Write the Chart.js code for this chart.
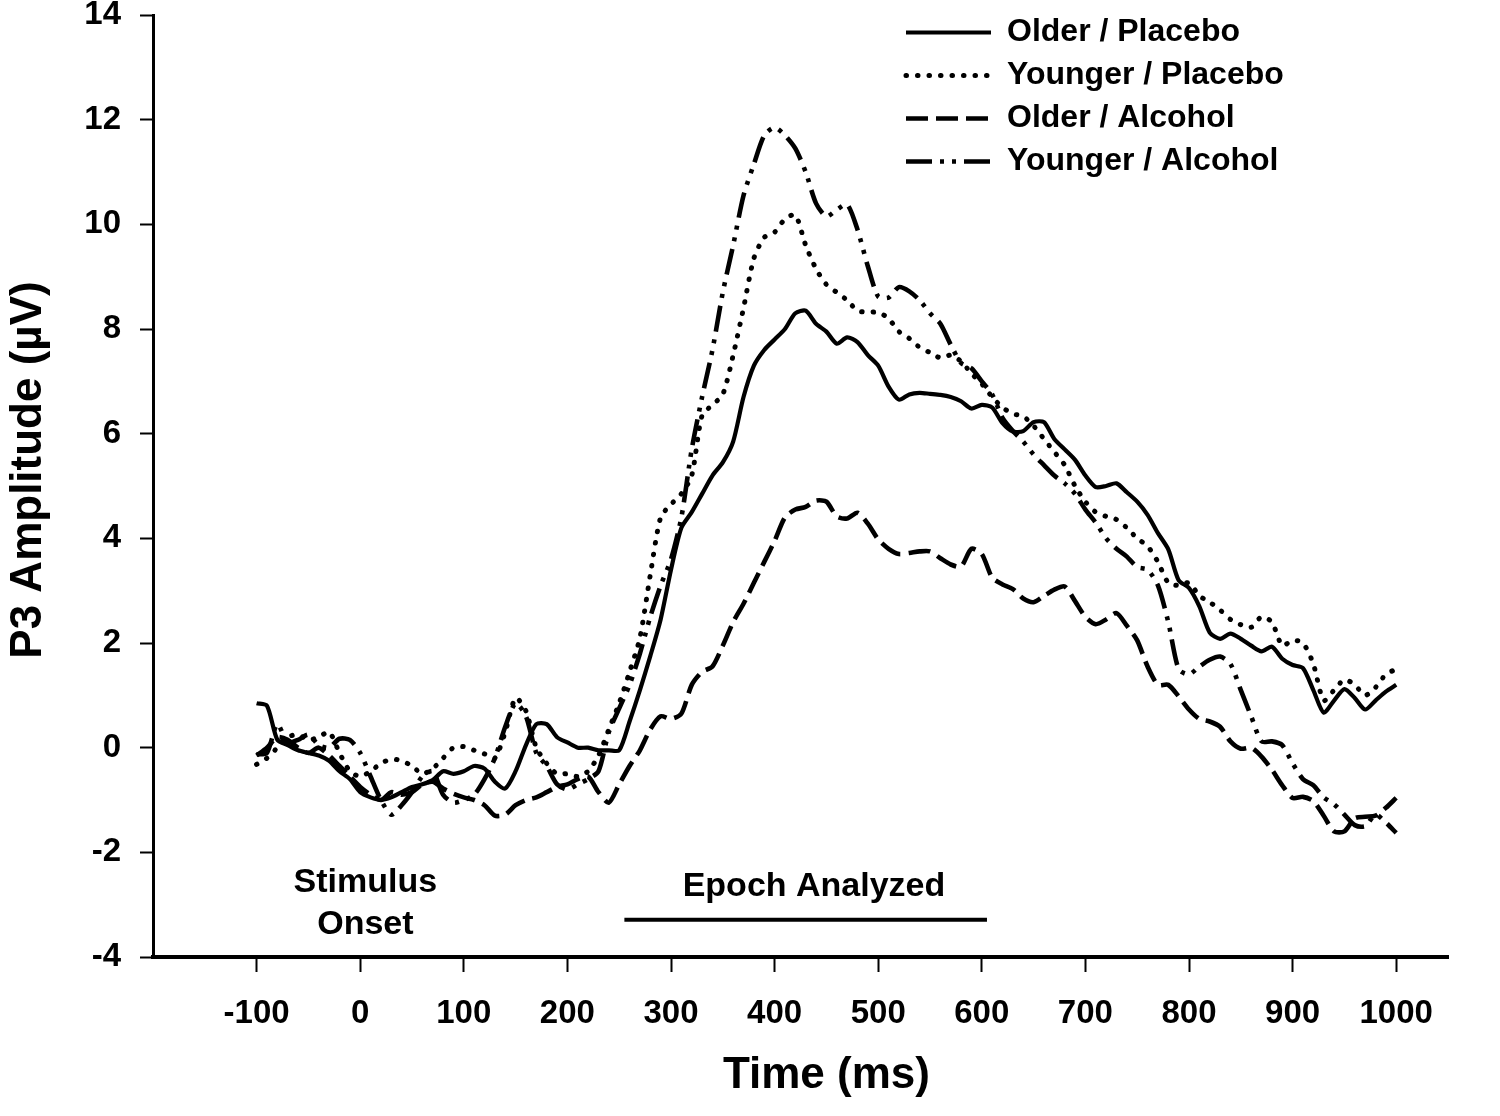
<!DOCTYPE html>
<html>
<head>
<meta charset="utf-8">
<title>P3 Amplitude by Age and Beverage</title>
<script src="https://cdn.jsdelivr.net/npm/chart.js@4.4.1/dist/chart.umd.min.js"></script>
<style>
    html, body { margin: 0; padding: 0; background: #fff; }
    #chart-box { width: 1500px; height: 1116px; }
</style>
</head>
<body>
<div id="chart-box"><canvas id="p3-chart" width="1500" height="1116"></canvas></div>
<script>
// time in ms, one sample every 10 ms
const times = [
    -100, -90, -80, -70, -60, -50, -40, -30, -20, -10,
    0, 10, 20, 30, 40, 50, 60, 70, 80, 90,
    100, 110, 120, 130, 140, 150, 160, 170, 180, 190,
    200, 210, 220, 230, 240, 250, 260, 270, 280, 290,
    300, 310, 320, 330, 340, 350, 360, 370, 380, 390,
    400, 410, 420, 430, 440, 450, 460, 470, 480, 490,
    500, 510, 520, 530, 540, 550, 560, 570, 580, 590,
    600, 610, 620, 630, 640, 650, 660, 670, 680, 690,
    700, 710, 720, 730, 740, 750, 760, 770, 780, 790,
    800, 810, 820, 830, 840, 850, 860, 870, 880, 890,
    900, 910, 920, 930, 940, 950, 960, 970, 980, 990,
    1000
];

const olderPlacebo = [
    0.85, 0.80, 0.15, 0.05, -0.05, -0.10, -0.15, -0.25, -0.45, -0.60,
    -0.85, -0.95, -1.00, -0.95, -0.85, -0.75, -0.70, -0.62, -0.45, -0.50,
    -0.45, -0.35, -0.40, -0.65, -0.78, -0.45, 0.05, 0.45, 0.45, 0.20,
    0.10, 0.00, 0.00, -0.05, -0.05, -0.05, 0.50, 1.10, 1.75, 2.45,
    3.40, 4.20, 4.50, 4.85, 5.20, 5.45, 5.85, 6.70, 7.30, 7.60,
    7.80, 8.00, 8.30, 8.35, 8.10, 7.95, 7.72, 7.84, 7.75, 7.50,
    7.30, 6.90, 6.65, 6.75, 6.78, 6.76, 6.74, 6.70, 6.62, 6.48,
    6.55, 6.50, 6.20, 6.04, 6.05, 6.22, 6.22, 5.90, 5.70, 5.50,
    5.20, 4.98, 5.00, 5.05, 4.88, 4.70, 4.45, 4.10, 3.79, 3.20,
    3.05, 2.70, 2.20, 2.08, 2.18, 2.08, 1.95, 1.84, 1.93, 1.70,
    1.58, 1.52, 1.10, 0.67, 0.90, 1.12, 0.95, 0.73, 0.90, 1.07,
    1.20
];

const youngerPlacebo = [
    -0.32, -0.20, 0.00, 0.20, 0.25, 0.15, 0.20, 0.30, -0.10, -0.45,
    -0.55, -0.45, -0.30, -0.22, -0.25, -0.35, -0.50, -0.40, -0.20, 0.00,
    0.02, -0.05, -0.12, -0.20, 0.30, 0.95, 0.70, 0.00, -0.30, -0.50,
    -0.50, -0.55, -0.45, -0.15, 0.35, 0.85, 1.45, 2.10, 3.30, 4.40,
    4.65, 4.85, 5.20, 6.35, 6.55, 6.75, 7.50, 8.40, 9.35, 9.75,
    9.85, 10.10, 10.18, 9.60, 9.15, 8.85, 8.70, 8.55, 8.35, 8.32,
    8.32, 8.20, 7.95, 7.82, 7.65, 7.55, 7.45, 7.50, 7.38, 7.15,
    6.95, 6.70, 6.50, 6.38, 6.33, 6.15, 5.90, 5.65, 5.40, 5.00,
    4.70, 4.50, 4.42, 4.36, 4.20, 4.00, 3.85, 3.55, 3.15, 3.10,
    3.15, 2.90, 2.78, 2.63, 2.45, 2.35, 2.30, 2.50, 2.40, 1.95,
    2.05, 2.00, 1.60, 0.90, 1.10, 1.30, 1.20, 1.00, 1.15, 1.40,
    1.50
];

const olderAlcohol = [
    -0.15, 0.00, 0.20, 0.15, 0.00, -0.10, 0.00, -0.15, -0.35, -0.55,
    -0.75, -0.90, -1.00, -0.85, -0.90, -0.85, -0.70, -0.65, -0.78, -0.88,
    -0.95, -1.00, -1.10, -1.30, -1.28, -1.10, -1.00, -0.95, -0.85, -0.75,
    -0.70, -0.60, -0.55, -0.85, -1.05, -0.70, -0.35, -0.05, 0.35, 0.60,
    0.55, 0.65, 1.20, 1.45, 1.55, 1.95, 2.40, 2.75, 3.15, 3.55,
    3.95, 4.40, 4.55, 4.60, 4.72, 4.70, 4.42, 4.38, 4.49, 4.28,
    3.98, 3.80, 3.70, 3.72, 3.75, 3.75, 3.62, 3.50, 3.46, 3.80,
    3.70, 3.25, 3.12, 3.03, 2.85, 2.78, 2.90, 3.02, 3.08, 2.80,
    2.50, 2.36, 2.45, 2.57, 2.33, 2.05, 1.55, 1.20, 1.20, 0.98,
    0.73, 0.55, 0.50, 0.40, 0.12, -0.02, 0.00, -0.17, -0.42, -0.72,
    -0.96, -0.94, -1.02, -1.30, -1.60, -1.60, -1.35, -1.32, -1.30, -1.15,
    -0.96
];

const youngerAlcohol = [
    -0.13, -0.10, 0.45, 0.10, 0.15, 0.25, 0.05, 0.00, 0.17, 0.15,
    -0.10, -0.55, -1.00, -1.28, -1.10, -0.85, -0.55, -0.45, -0.90, -1.05,
    -1.00, -0.90, -0.60, -0.20, 0.40, 0.85, 0.60, -0.10, -0.35, -0.70,
    -0.80, -0.70, -0.60, -0.45, 0.30, 0.75, 1.20, 1.80, 2.50, 3.10,
    3.60, 4.40, 5.70, 6.70, 7.60, 8.70, 9.60, 10.55, 11.15, 11.70,
    11.85, 11.70, 11.45, 11.00, 10.40, 10.15, 10.28, 10.38, 9.90, 9.20,
    8.62, 8.60, 8.80, 8.72, 8.55, 8.30, 8.10, 7.70, 7.35, 7.25,
    7.00, 6.75, 6.30, 6.05, 5.85, 5.60, 5.40, 5.20, 5.05, 4.85,
    4.55, 4.30, 4.00, 3.80, 3.65, 3.45, 3.40, 3.10, 2.40, 1.50,
    1.40, 1.55, 1.68, 1.74, 1.60, 1.10, 0.60, 0.12, 0.12, 0.05,
    -0.30, -0.60, -0.72, -0.95, -1.08, -1.28, -1.48, -1.50, -1.28, -1.43,
    -1.63
];

const groupNames = ['Older / Placebo', 'Younger / Placebo', 'Older / Alcohol', 'Younger / Alcohol'];
const xTicks = [-100, 0, 100, 200, 300, 400, 500, 600, 700, 800, 900, 1000];
const yTicks = [-4, -2, 0, 2, 4, 6, 8, 10, 12, 14];
const epochRange = [255, 605];

const FONT = '"Liberation Sans", Arial, Helvetica, sans-serif';

document.addEventListener('DOMContentLoaded', function() {
    Chart.defaults.font.family = FONT;
    Chart.defaults.color = '#000';
    initializeP3Chart();
});

function toPoints(values) {
    return values.map((v, i) => ({ x: times[i], y: v }));
}

function makeDataset(label, values, dash, width, cap) {
    return {
        label: label,
        data: toPoints(values),
        borderColor: '#000',
        backgroundColor: '#000',
        borderWidth: width,
        borderDash: dash,
        borderCapStyle: cap,
        pointRadius: 0,
        tension: 0.25,
        fill: false
    };
}

// moves the legend into the top right corner of the plot
const legendPlacer = {
    id: 'legendPlacer',
    afterLayout(chart) {
        const lg = chart.legend;
        lg.left = 895;
        lg.right = lg.left + lg.width;
        lg.top = 5.5;
        lg.bottom = lg.top + lg.height;
    }
};

// axis titles, stimulus label and the analysed epoch bar
const annotations = {
    id: 'annotations',
    afterDraw(chart) {
        const ctx = chart.ctx;
        const xs = chart.scales.x;
        const ys = chart.scales.y;
        ctx.save();
        ctx.fillStyle = '#000';
        ctx.strokeStyle = '#000';
        ctx.textAlign = 'center';
        ctx.textBaseline = 'middle';

        ctx.font = 'bold 34px ' + FONT;
        ctx.fillText('Stimulus', xs.getPixelForValue(5), ys.getPixelForValue(-2.58));
        ctx.fillText('Onset', xs.getPixelForValue(5), ys.getPixelForValue(-3.38));
        ctx.fillText('Epoch Analyzed', xs.getPixelForValue(438), ys.getPixelForValue(-2.66));

        const barY = ys.getPixelForValue(-3.29);
        ctx.lineWidth = 4;
        ctx.beginPath();
        ctx.moveTo(xs.getPixelForValue(epochRange[0]), barY);
        ctx.lineTo(xs.getPixelForValue(epochRange[1]), barY);
        ctx.stroke();

        ctx.font = 'bold 44px ' + FONT;
        ctx.fillText('Time (ms)', xs.getPixelForValue(450), 1076);

        ctx.translate(29, 470);
        ctx.rotate(-Math.PI / 2);
        ctx.fillText('P3 Amplitude (µV)', 0, 0);
        ctx.restore();
    }
};

function initializeP3Chart() {
    const ctx = document.getElementById('p3-chart').getContext('2d');

    window.p3Chart = new Chart(ctx, {
        type: 'line',
        data: {
            datasets: [
                makeDataset(groupNames[0], olderPlacebo, [], 4.2, 'butt'),
                makeDataset(groupNames[1], youngerPlacebo, [0.5, 11], 5, 'round'),
                makeDataset(groupNames[2], olderAlcohol, [22, 8], 4.6, 'butt'),
                makeDataset(groupNames[3], youngerAlcohol, [26, 8, 4, 8, 4, 8], 4.6, 'butt')
            ]
        },
        options: {
            responsive: false,
            animation: false,
            layout: {
                padding: { top: 15, right: 52, bottom: 0, left: 0 }
            },
            plugins: {
                tooltip: { enabled: false },
                legend: {
                    position: 'chartArea',
                    align: 'start',
                    labels: {
                        usePointStyle: true,
                        pointStyle: 'line',
                        pointStyleWidth: 85,
                        boxWidth: 85,
                        boxHeight: 20,
                        padding: 11,
                        color: '#000',
                        font: { size: 32, weight: 'bold' },
                        generateLabels: function(chart) {
                            return chart.data.datasets.map((ds, i) => ({
                                text: ds.label,
                                fillStyle: '#000',
                                strokeStyle: '#000',
                                fontColor: '#000',
                                lineWidth: ds.borderWidth,
                                lineDash: ds.borderDash,
                                lineCap: ds.borderCapStyle,
                                pointStyle: 'line',
                                hidden: false,
                                datasetIndex: i
                            }));
                        }
                    }
                }
            },
            scales: {
                x: {
                    type: 'linear',
                    min: -200,
                    max: 1050,
                    afterBuildTicks: axis => { axis.ticks = xTicks.map(v => ({ value: v })); },
                    afterFit: s => { s.height = 159; s.paddingLeft = 0; s.paddingRight = 0; },
                    ticks: {
                        callback: v => String(v),
                        font: { size: 33, weight: 'bold' },
                        color: '#000',
                        padding: 22,
                        maxRotation: 0,
                        autoSkip: false
                    },
                    grid: {
                        drawOnChartArea: false,
                        drawTicks: true,
                        tickLength: 15,
                        tickWidth: 2,
                        tickColor: '#000'
                    },
                    border: { display: true, color: '#000', width: 4 }
                },
                y: {
                    min: -4,
                    max: 14,
                    afterBuildTicks: axis => { axis.ticks = yTicks.map(v => ({ value: v })); },
                    afterFit: s => { s.width = 153; s.paddingTop = 0; s.paddingBottom = 0; },
                    ticks: {
                        callback: v => String(v),
                        font: { size: 33, weight: 'bold' },
                        color: '#000',
                        padding: 19
                    },
                    grid: {
                        drawOnChartArea: false,
                        drawTicks: true,
                        tickLength: 13,
                        tickWidth: 2,
                        tickColor: '#000'
                    },
                    border: { display: true, color: '#000', width: 3 }
                }
            }
        },
        plugins: [legendPlacer, annotations]
    });
}
</script>
</body>
</html>
